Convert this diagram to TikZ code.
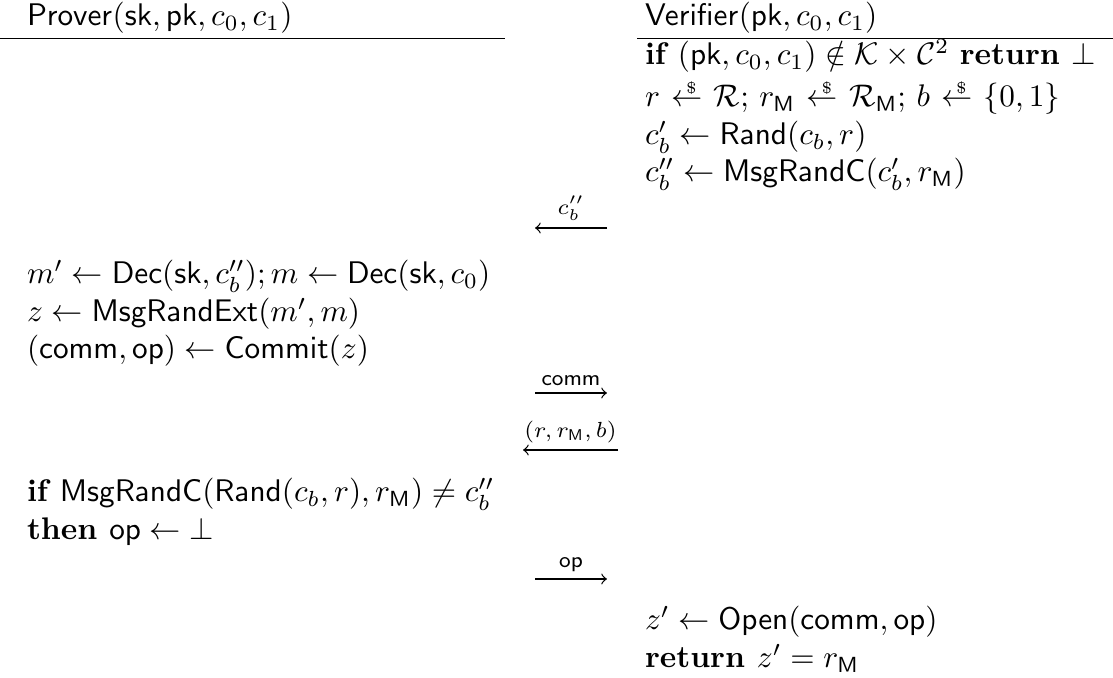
\documentclass[tikz,border=0pt]{standalone}
\usepackage{amsmath,amssymb}
\newcommand{\smp}{\mathrel{\mkern1.5mu{\leftarrow}\mkern-18mu\makebox[10pt][r]{\raisebox{1ex}{\tiny\$}\kern1.8pt}\mkern1.5mu}}
\newcommand{\sfn}[1]{\mathsf{#1}}
\begin{document}
\begin{tikzpicture}[x=0.32pt,y=-0.32pt,
  txt/.style={anchor=base west,inner sep=0pt,outer sep=0pt},
  msg/.style={line width=0.4pt},
  lbl/.style={inner sep=0pt,anchor=south,font=\scriptsize,yshift=2.2pt}]
\useasboundingbox (0,0) rectangle (1113,678);
% headers
\node[txt] (ph) at (27,26) {$\sfn{Prover}(\sfn{sk},\sfn{pk},c_0,c_1)$};
\node[txt] (vh) at (645,26) {$\sfn{Verifier}(\sfn{pk},c_0,c_1)$};
\coordinate (pl1) at (0,38.5); \coordinate (pl2) at (505,38.5);
\coordinate (vl1) at (637,38.5); \coordinate (vl2) at (1113,38.5);
\draw[line width=0.4pt] (pl1) -- (pl2);
\draw[line width=0.4pt] (vl1) -- (vl2);
% verifier first block
\node[txt] (v1) at (645,65) {$\textbf{if } (\sfn{pk},c_0,c_1)\notin\mathcal{K}\times\mathcal{C}^2\ \textbf{return }\bot$};
\node[txt] (v2) at (645,107) {$r\smp\mathcal{R};\, r_{\sfn{M}}\smp\mathcal{R}_{\sfn{M}};\, b\smp\{0,1\}$};
\node[txt] (v3) at (645,144.5) {$c_b'\leftarrow\sfn{Rand}(c_b,r)$};
\node[txt] (v4) at (645,182) {$c_b''\leftarrow\sfn{MsgRandC}(c_b',r_{\sfn{M}})$};
% arrow c_b''
\coordinate (a1r) at (607,228); \coordinate (a1l) at (535,228);
\draw[msg,->] (a1r) -- (a1l) node[lbl,midway] {$c_b''$};
% prover block
\node[txt] (p1) at (27,284) {$m'\leftarrow\sfn{Dec}(\sfn{sk},c_b''); m\leftarrow\sfn{Dec}(\sfn{sk},c_0)$};
\node[txt] (p2) at (27,321.5) {$z\leftarrow\sfn{MsgRandExt}(m',m)$};
\node[txt] (p3) at (27,359) {$(\sfn{comm},\sfn{op})\leftarrow\sfn{Commit}(z)$};
% comm arrow
\coordinate (a2l) at (535,393); \coordinate (a2r) at (607,393);
\draw[msg,->] (a2l) -- (a2r) node[lbl,midway] {$\sfn{comm}$};
% (r,rM,b) arrow
\coordinate (a3r) at (618,450); \coordinate (a3l) at (523,450);
\draw[msg,->] (a3r) -- (a3l) node[lbl,midway] {$(r,r_{\sfn{M}},b)$};
% prover check
\node[txt] (p4) at (27,502) {$\textbf{if } \sfn{MsgRandC}(\sfn{Rand}(c_b,r),r_{\sfn{M}})\neq c_b''$};
\node[txt] (p5) at (27,539.5) {$\textbf{then } \sfn{op}\leftarrow\bot$};
% op arrow
\coordinate (a4l) at (535,579); \coordinate (a4r) at (607,579);
\draw[msg,->] (a4l) -- (a4r) node[lbl,midway] {$\sfn{op}$};
% verifier final
\node[txt] (v5) at (645,630) {$z'\leftarrow\sfn{Open}(\sfn{comm},\sfn{op})$};
\node[txt] (v6) at (645,667.5) {$\textbf{return } z'=r_{\sfn{M}}$};
\end{tikzpicture}
\end{document}
